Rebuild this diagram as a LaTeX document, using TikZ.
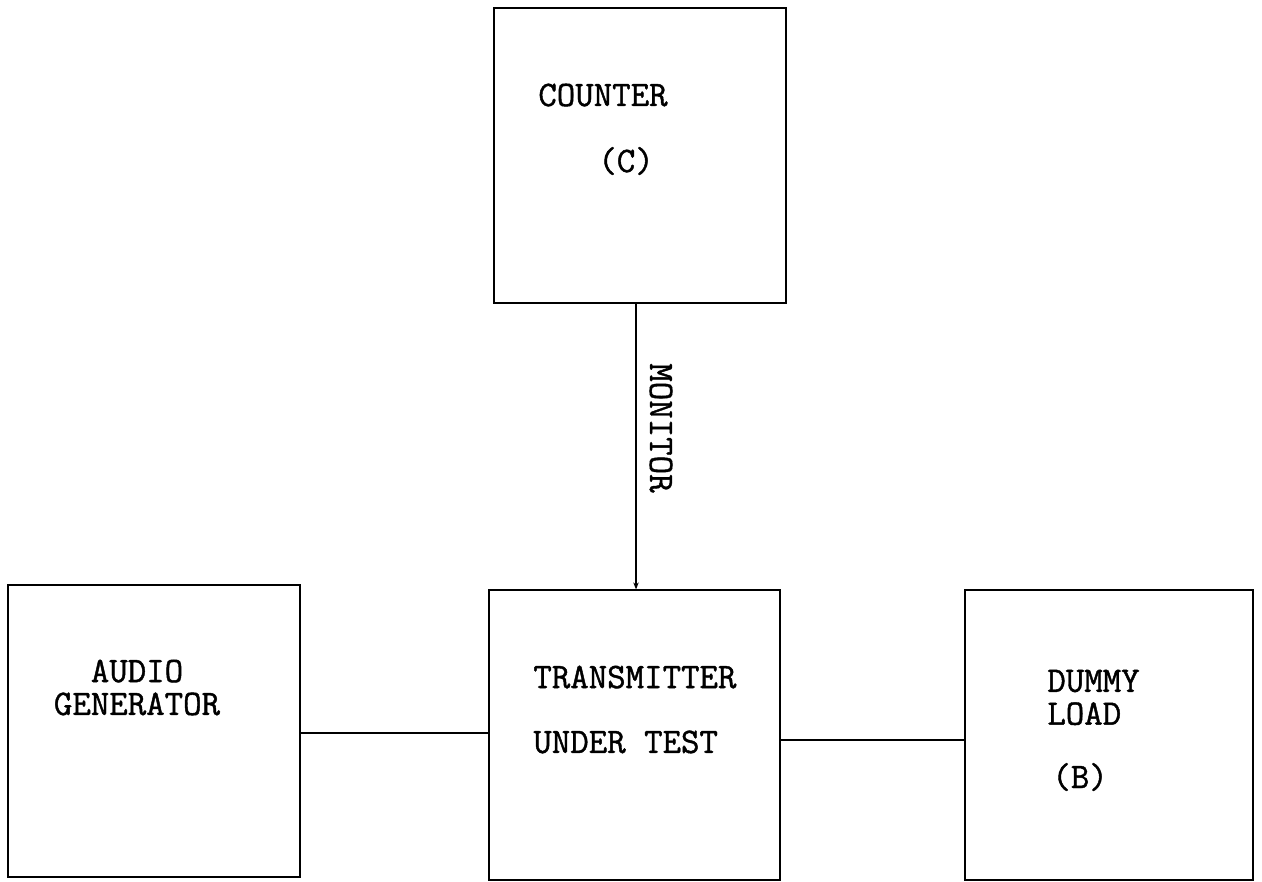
\documentclass[tikz,border=0pt]{standalone}
\usepackage{fontspec}
\newfontfamily\typefont{Latin Modern Mono}[FakeBold=1.2]
\usepackage{tikz}
\usetikzlibrary{arrows.meta,positioning,calc}

\begin{document}
\begin{tikzpicture}[
    x=0.2mm, y=-0.2mm,
    unitbox/.style={draw=black, line width=0.7pt, inner sep=0pt},
    tag/.style={inner sep=0pt, font=\typefont\fontsize{20.4}{18.7}\selectfont},
    wire/.style={draw=black, line width=0.6pt}
]
    \useasboundingbox (0,0) rectangle (1262,882);

    % the four units
    \node[unitbox, minimum width=58.4mm, minimum height=59mm] (counter) at (640,155.5) {};
    \node[unitbox, minimum width=58.2mm, minimum height=58mm] (tx) at (634.5,735) {};
    \node[unitbox, minimum width=58.4mm, minimum height=58.4mm] (audio) at (154,731) {};
    \node[unitbox, minimum width=57.6mm, minimum height=58mm] (dummy) at (1109,735) {};

    % labels inside the units
    \node[tag, anchor=base west] (countername) at (538,106) {COUNTER};
    \node[tag, anchor=base west] (countertag) at (598,172) {(C)};
    \node[tag, align=center] (audioname) at (137,687.5) {AUDIO\\GENERATOR};
    \node[tag, align=left, anchor=west] (txname) at (533,709.5) {TRANSMITTER\\[6.4mm]UNDER TEST};
    \node[tag, align=left, anchor=west] (dummyname) at (1047,697.5) {DUMMY\\LOAD};
    \node[tag, anchor=base west] (dummytag) at (1052,788) {(B)};

    % connections
    \draw[wire, -{Stealth[length=1.4mm, width=1.1mm]}]
        ([xshift=-0.8mm]counter.south) -- ([xshift=-0.8mm]counter.south |- tx.north);
    \node[tag, rotate=-90] (monitorlabel) at (661,428) {MONITOR};
    \draw[wire] ([yshift=-0.4mm]audio.east) -- ([yshift=-0.4mm]audio.east -| tx.west);
    \draw[wire] ([yshift=-1mm]tx.east) -- ([yshift=-1mm]tx.east -| dummy.west);
\end{tikzpicture}
\end{document}
